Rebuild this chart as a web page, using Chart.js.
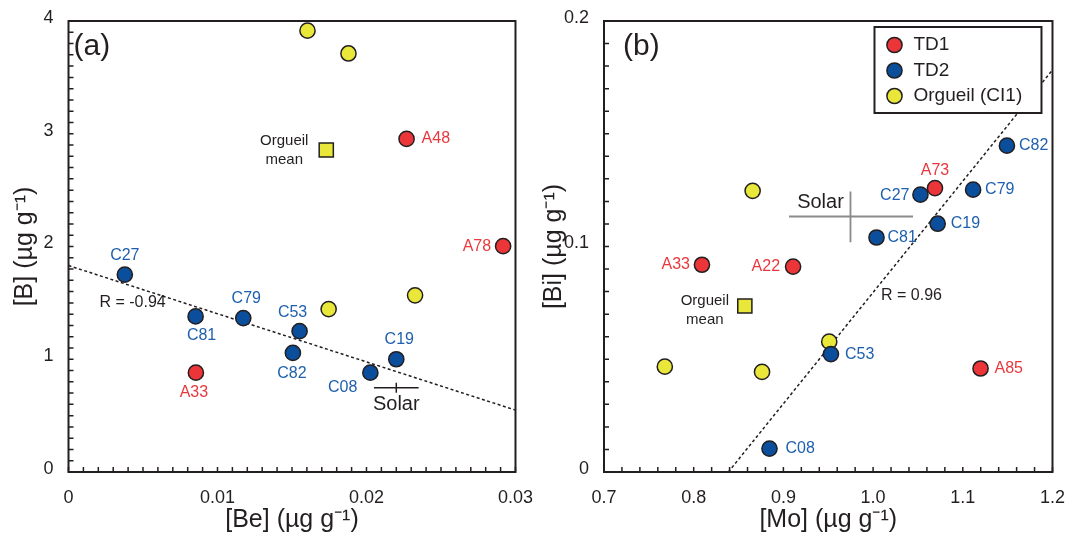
<!DOCTYPE html>
<html lang="en">
<head>
<meta charset="UTF-8">
<title>[B] vs [Be], [Bi] vs [Mo]</title>
<script src="https://cdn.jsdelivr.net/npm/chart.js@4.4.0/dist/chart.umd.min.js"></script>
<style>
  * { margin: 0; padding: 0; box-sizing: border-box; }
  body { background: #fff; width: 1072px; height: 536px; overflow: hidden; }
  .panel { position: absolute; top: 0; height: 536px; }
  #panelA { left: 0; width: 540px; }
  #panelB { left: 540px; width: 532px; }
</style>
</head>
<body>
<div class="panel" id="panelA"><canvas id="chartA" width="540" height="536"></canvas></div>
<div class="panel" id="panelB"><canvas id="chartB" width="532" height="536"></canvas></div>
<script>
// panel (a): [B] against [Be]
const td1NamesA = ['A33', 'A48', 'A78'];
const td1BeA = [0.00855, 0.02269, 0.02917];
const td1BA = [0.881, 2.954, 2.003];

const td2NamesA = ['C27', 'C81', 'C79', 'C53', 'C82', 'C19', 'C08'];
const td2BeA = [0.00378, 0.00853, 0.01173, 0.01551, 0.01506, 0.0220, 0.02026];
const td2BA = [1.751, 1.380, 1.365, 1.249, 1.056, 1.000, 0.881];

const orgBeA = [0.01604, 0.01879, 0.01746, 0.02326];
const orgBA = [3.914, 3.712, 1.445, 1.567];

const meanBeA = [0.0173];
const meanBA = [2.856];

const solarBe = [0.0205, 0.0220, 0.0235];   // low, centre, high
const solarB = [0.703, 0.748, 0.792];

const fitBeA = [0, 0.03];
const fitBA = [1.831, 0.549];

// panel (b): [Bi] against [Mo]
const td1NamesB = ['A33', 'A22', 'A73', 'A85'];
const td1MoB = [0.8092, 0.9108, 1.069, 1.1198];
const td1BiB = [0.0919, 0.0911, 0.1259, 0.0459];

const td2NamesB = ['C82', 'C27', 'C79', 'C19', 'C81', 'C53', 'C08'];
const td2MoB = [1.1492, 1.0528, 1.1115, 1.072, 1.0038, 0.953, 0.8845];
const td2BiB = [0.1447, 0.123, 0.1252, 0.1101, 0.104, 0.0523, 0.0104];

const orgMoB = [0.8657, 0.9511, 0.7678, 0.8762];
const orgBiB = [0.1247, 0.0578, 0.0467, 0.0444];

const meanMoB = [0.857];
const meanBiB = [0.0736];

const solarMo = [0.9063, 0.9748, 1.0445];
const solarBi = [0.1019, 0.1133, 0.1244];

const fitMoB = [0.8386, 1.2];
const fitBiB = [0, 0.1783];

const ticksBe = [0, 0.01, 0.02, 0.03];
const ticksB = [0, 1, 2, 3, 4];
const ticksMo = [0.7, 0.8, 0.9, 1.0, 1.1, 1.2];
const ticksBi = [0, 0.1, 0.2];

const RED = '#ec3539', BLUE = '#0b4e9c', YELLOW = '#e9e73a';
const RED_TXT = '#e8383d', BLUE_TXT = '#1e60ad';
const INK = '#231f20';
const FONT = "'Liberation Sans', Arial, sans-serif";

const pts = (xs, ys) => xs.map((x, i) => ({ x, y: ys[i] }));

// where each sample name sits relative to its marker: [dx, dy, align]
const placeA = {
  A33: [-2, 20, 'center'], A48: [15, 0, 'left'], A78: [-12, 0, 'right'],
  C27: [0, -19, 'center'], C81: [6, 19, 'center'], C79: [3, -20, 'center'],
  C53: [-7, -19, 'center'], C82: [-1, 21, 'center'], C19: [3, -20, 'center'],
  C08: [-13, 15, 'right']
};
const placeB = {
  A33: [-12, 0, 'right'], A22: [-13, 0, 'right'], A73: [0, -18, 'center'], A85: [14, 0, 'left'],
  C82: [12, 0, 'left'], C27: [-11, 1, 'right'], C79: [12, 0, 'left'], C19: [13, 0, 'left'],
  C81: [11, 0, 'left'], C53: [14, 1, 'left'], C08: [16, 0, 'left']
};

function steps(min, max, step) {
  const n = Math.round((max - min) / step);
  const out = [];
  for (let i = 0; i <= n; i++) out.push(min + i * step);
  return out;
}

function text(ctx, str, x, y, size, color, align) {
  ctx.font = size + 'px ' + FONT;
  ctx.fillStyle = color;
  ctx.textAlign = align || 'left';
  ctx.textBaseline = 'middle';
  ctx.fillText(str, x, y);
}

const decor = {
  id: 'decor',
  afterDatasetsDraw(chart, args, o) {
    const { ctx, chartArea: a, scales: { x, y } } = chart;
    ctx.save();

    // frame
    ctx.strokeStyle = INK;
    ctx.lineWidth = 2;
    ctx.strokeRect(a.left, a.top, a.right - a.left, a.bottom - a.top);

    // inward minor ticks on the left and bottom axes
    ctx.lineWidth = 1.5;
    ctx.beginPath();
    steps(x.min, x.max, o.xMinor).forEach(v => {
      const px = x.getPixelForValue(v);
      ctx.moveTo(px, a.bottom);
      ctx.lineTo(px, a.bottom - 5);
    });
    steps(y.min, y.max, o.yMinor).forEach(v => {
      const py = y.getPixelForValue(v);
      ctx.moveTo(a.left, py);
      ctx.lineTo(a.left + 5, py);
    });
    ctx.stroke();

    // sample names
    chart.data.datasets.forEach((ds, di) => {
      if (!ds.names) return;
      const meta = chart.getDatasetMeta(di);
      ds.names.forEach((name, i) => {
        const el = meta.data[i];
        const p = o.place[name] || [12, 0, 'left'];
        text(ctx, name, el.x + p[0], el.y + p[1], 16, ds.textColor, p[2]);
      });
    });

    // mean marker caption
    const m = chart.getDatasetMeta(o.meanIndex).data[0];
    text(ctx, 'Orgueil', m.x + o.meanText[0], m.y + o.meanText[1], 15, INK, 'center');
    text(ctx, 'mean', m.x + o.meanText[0], m.y + o.meanText[2], 15, INK, 'center');

    // solar caption
    const sx = x.getPixelForValue(o.solar[0]);
    const sy = y.getPixelForValue(o.solar[1]);
    text(ctx, 'Solar', sx + o.solarText[0], sy + o.solarText[1], 20, INK, 'center');

    // panel letter and correlation
    text(ctx, o.letter, a.left + o.letterPos[0], a.top + o.letterPos[1], 30, INK, 'left');
    text(ctx, o.r, a.left + o.rPos[0], a.top + o.rPos[1], 16, INK, 'left');

    // legend box
    if (o.legend) {
      const L = o.legend;
      const bx = a.right - L.right - L.w, by = a.top + L.top;
      ctx.fillStyle = '#fff';
      ctx.fillRect(bx, by, L.w, L.h);
      ctx.strokeStyle = INK;
      ctx.lineWidth = 2;
      ctx.strokeRect(bx, by, L.w, L.h);
      L.items.forEach((di, k) => {
        const ds = chart.data.datasets[di];
        const cy = by + 18 + k * 25.5;
        ctx.beginPath();
        ctx.arc(bx + 20, cy, 7.6, 0, Math.PI * 2);
        ctx.fillStyle = ds.backgroundColor;
        ctx.fill();
        ctx.lineWidth = 1.5;
        ctx.strokeStyle = INK;
        ctx.stroke();
        text(ctx, ds.label, bx + 39, cy, 19, INK, 'left');
      });
    }
    ctx.restore();
  }
};

function marker(label, data, color, order, extra) {
  return Object.assign({
    label, data, order,
    backgroundColor: color,
    borderColor: INK,
    borderWidth: 1.5,
    pointRadius: 7.6,
    pointHoverRadius: 7.6
  }, extra || {});
}

function segment(data, color, width, order, dash) {
  return {
    data, order,
    showLine: true,
    borderColor: color,
    borderWidth: width,
    borderDash: dash || [],
    pointRadius: 0,
    pointHoverRadius: 0,
    fill: false
  };
}

function axes(cfg) {
  const tickFont = { family: FONT, size: 18 };
  return {
    x: {
      type: 'linear', min: cfg.xTicks[0], max: cfg.xTicks[cfg.xTicks.length - 1],
      afterBuildTicks: s => { s.ticks = cfg.xTicks.map(v => ({ value: v })); },
      afterFit: s => { s.height = 64; },
      grid: { display: false },
      border: { display: false },
      ticks: { font: tickFont, color: INK, padding: 7, maxRotation: 0, callback: cfg.xFmt },
      title: { display: true, text: cfg.xTitle, color: INK, font: { family: FONT, size: 25, lineHeight: 1.2 }, padding: { top: 0, bottom: 1 } }
    },
    y: {
      type: 'linear', min: cfg.yTicks[0], max: cfg.yTicks[cfg.yTicks.length - 1],
      afterBuildTicks: s => { s.ticks = cfg.yTicks.map(v => ({ value: v })); },
      afterFit: s => { s.width = cfg.yWidth; },
      grid: { display: false },
      border: { display: false },
      ticks: { font: tickFont, color: INK, padding: 7, labelOffset: -3, callback: cfg.yFmt },
      title: { display: true, text: cfg.yTitle, color: INK, font: { family: FONT, size: 25, lineHeight: cfg.yTitleLH }, padding: { top: cfg.yTitlePad, bottom: 0 } }
    }
  };
}

const common = {
  responsive: false,
  animation: false,
  events: [],
  plugins: { legend: { display: false }, tooltip: { enabled: false } }
};

new Chart(document.getElementById('chartA'), {
  type: 'scatter',
  data: {
    datasets: [
      marker('TD1', pts(td1BeA, td1BA), RED, 2, { names: td1NamesA, textColor: RED_TXT }),
      marker('TD2', pts(td2BeA, td2BA), BLUE, 1, { names: td2NamesA, textColor: BLUE_TXT }),
      marker('Orgueil (CI1)', pts(orgBeA, orgBA), YELLOW, 3),
      marker('Orgueil mean', pts(meanBeA, meanBA), YELLOW, 4, { pointStyle: 'rect', pointRadius: 10, pointHoverRadius: 10 }),
      segment([{ x: solarBe[0], y: solarB[1] }, { x: solarBe[2], y: solarB[1] }], INK, 1.5, 5),
      segment([{ x: solarBe[1], y: solarB[0] }, { x: solarBe[1], y: solarB[2] }], INK, 1.5, 5),
      segment(pts(fitBeA, fitBA), INK, 1.5, 6, [3, 2.5])
    ]
  },
  options: Object.assign({}, common, {
    layout: { padding: { left: 0, top: 21, right: 20, bottom: 0 } },
    scales: axes({
      xTicks: ticksBe, yTicks: ticksB, yWidth: 68.5, yTitlePad: 10, yTitleLH: 1.2,
      xFmt: v => (v === 0 ? '0' : v.toFixed(2)),
      yFmt: v => String(v),
      xTitle: '[Be] (µg g⁻¹)', yTitle: '[B] (µg g⁻¹)'
    }),
    plugins: Object.assign({}, common.plugins, {
      decor: {
        xMinor: 0.001, yMinor: 0.1, place: placeA,
        meanIndex: 3, meanText: [-42, -9, 10],
        solar: [solarBe[1], solarB[1]], solarText: [0, 17],
        letter: '(a)', letterPos: [5, 26],
        r: 'R = -0.94', rPos: [31, 282]
      }
    })
  }),
  plugins: [decor]
});

new Chart(document.getElementById('chartB'), {
  type: 'scatter',
  data: {
    datasets: [
      marker('TD1', pts(td1MoB, td1BiB), RED, 2, { names: td1NamesB, textColor: RED_TXT }),
      marker('TD2', pts(td2MoB, td2BiB), BLUE, 1, { names: td2NamesB, textColor: BLUE_TXT }),
      marker('Orgueil (CI1)', pts(orgMoB, orgBiB), YELLOW, 3),
      marker('Orgueil mean', pts(meanMoB, meanBiB), YELLOW, 4, { pointStyle: 'rect', pointRadius: 10, pointHoverRadius: 10 }),
      segment([{ x: solarMo[0], y: solarBi[1] }, { x: solarMo[2], y: solarBi[1] }], '#8a8a8a', 1.8, 5),
      segment([{ x: solarMo[1], y: solarBi[0] }, { x: solarMo[1], y: solarBi[2] }], '#8a8a8a', 1.8, 5),
      segment(pts(fitMoB, fitBiB), INK, 1.5, 6, [3, 2.5])
    ]
  },
  options: Object.assign({}, common, {
    layout: { padding: { left: 0, top: 21, right: 18, bottom: 0 } },
    scales: axes({
      xTicks: ticksMo, yTicks: ticksBi, yWidth: 64, yTitlePad: 0, yTitleLH: 1.1,
      xFmt: v => v.toFixed(1),
      yFmt: v => (v === 0 ? '0' : v.toFixed(1)),
      xTitle: '[Mo] (µg g⁻¹)', yTitle: '[Bi] (µg g⁻¹)'
    }),
    plugins: Object.assign({}, common.plugins, {
      decor: {
        xMinor: 0.02, yMinor: 0.01, place: placeB,
        meanIndex: 3, meanText: [-40, -5, 14],
        solar: [solarMo[1], solarBi[1]], solarText: [-30, -14],
        letter: '(b)', letterPos: [19, 26],
        r: 'R = 0.96', rPos: [277, 275],
        legend: { right: 11, top: 6, w: 167, h: 86, items: [0, 1, 2] }
      }
    })
  }),
  plugins: [decor]
});
</script>
</body>
</html>
